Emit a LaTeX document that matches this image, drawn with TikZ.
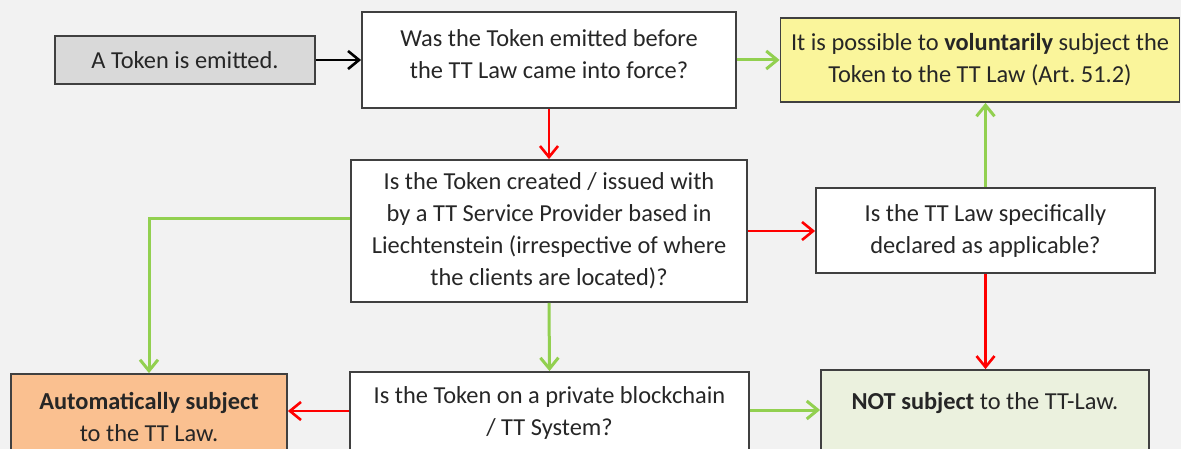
\documentclass[tikz,border=0pt]{standalone}
\usepackage{fontspec}
\setmainfont{Carlito}
\usetikzlibrary{arrows.meta}
\definecolor{bg}{HTML}{F2F2F2}
\definecolor{bordc}{HTML}{404040}
\definecolor{txtc}{HTML}{262626}
\definecolor{startfill}{HTML}{D9D9D9}
\definecolor{yelfill}{HTML}{FAF59B}
\definecolor{orafill}{HTML}{FAC090}
\definecolor{grnfill}{HTML}{EBF1DE}
\definecolor{grnarr}{HTML}{92D050}
\definecolor{redarr}{HTML}{FF0000}
\tikzset{
  box/.style={draw=bordc, line width=1.8pt, fill=white, align=center, inner sep=0pt,
    text=txtc, font=\fontsize{24.4pt}{32pt}\selectfont},
  yesarr/.style={draw=grnarr, line width=3pt, -{Straight Barb[length=11pt,width=18pt,line width=3pt]}},
  noarr/.style={draw=redarr, line width=2.6pt, -{Straight Barb[length=11pt,width=18pt,line width=2.6pt]}},
  blkarr/.style={draw=black, line width=2.6pt, -{Straight Barb[length=11pt,width=18pt,line width=2.6pt]}},
}
\begin{document}
\begin{tikzpicture}[x=1pt,y=-1pt]
\useasboundingbox (0,0) rectangle (1181,449);
\fill[bg] (0,0) rectangle (1181,449);
\clip (0,0) rectangle (1181,449);

\node[box, fill=startfill, minimum width=260pt, minimum height=48pt] (start) at (185,60) {A Token is emitted.};
\node[box, minimum width=374pt, minimum height=96pt] (q1) at (549,60) {Was the Token emitted before\\the TT Law came into force?\\[-20pt]};
\node[box, fill=yelfill, minimum width=399pt, minimum height=84pt] (vol) at (980,60) {It is possible to \textbf{voluntarily} subject the\\Token to the TT Law (Art.~51.2)};
\node[box, minimum width=396pt, minimum height=142pt] (q2) at (549,231) {Is the Token created / issued with\\by a TT Service Provider based in\\Liechtenstein (irrespective of where\\the clients are located)?};
\node[box, minimum width=339pt, minimum height=85pt] (q3) at (985.5,230.5) {Is the TT Law specifically\\declared as applicable?};
\node[box, fill=orafill, minimum width=276pt, minimum height=86pt] (auto) at (149,417) {\textbf{Automatically subject}\\to the TT Law.};
\node[box, minimum width=399pt, minimum height=88pt] (q4) at (549.5,416) {Is the Token on a private blockchain\\/ TT System?\\[-22pt]};
\node[box, fill=grnfill, minimum width=328pt, minimum height=104pt] (notb) at (985,422) {\textbf{NOT subject} to the TT-Law.\\ \strut};

\draw[blkarr] (start.east) -- (q1.west);
\draw[yesarr] (q1.east) -- (vol.west |- q1.east);
\draw[noarr] (q1.south) -- (q2.north);
\draw[noarr] (q2.east) -- (q2.east -| q3.west);
\draw[yesarr] ([yshift=12pt]q2.west) -| (auto.north);
\draw[yesarr] (q2.south) -- (q4.north);
\draw[yesarr] (q3.north) -- (q3.north |- vol.south);
\draw[noarr] (q3.south) -- (q3.south |- notb.north);
\coordinate (q4l) at ([yshift=5pt]q4.west);
\coordinate (q4r) at ([yshift=6pt]q4.east);
\draw[noarr] (q4l) -- (q4l -| auto.east);
\draw[yesarr] (q4r) -- (q4r -| notb.west);
\end{tikzpicture}
\end{document}
